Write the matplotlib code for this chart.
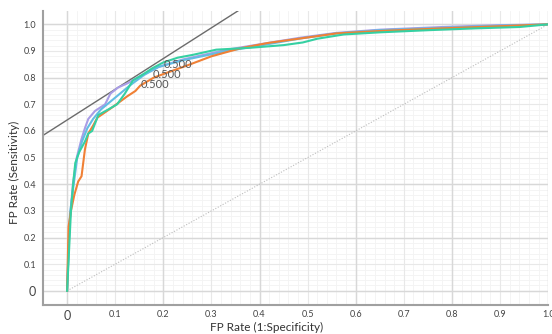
import numpy as np
import matplotlib
matplotlib.use('Agg')
import matplotlib.pyplot as plt

plt.rcParams['font.family'] = ['Lato', 'DejaVu Sans']

# ROC curves (FPR, TPR)
orange_fpr = [0, 0.003, 0.008, 0.015, 0.023, 0.03, 0.037, 0.044, 0.054, 0.063, 0.079, 0.095,
              0.11, 0.125, 0.142, 0.152, 0.18, 0.21, 0.25, 0.30, 0.36, 0.417, 0.485, 0.56,
              0.65, 0.78, 0.9, 1.0]
orange_tpr = [0, 0.24, 0.30, 0.36, 0.41, 0.43, 0.53, 0.59, 0.62, 0.65, 0.67, 0.69,
              0.71, 0.73, 0.75, 0.77, 0.80, 0.82, 0.846, 0.88, 0.91, 0.93, 0.947, 0.966,
              0.975, 0.985, 0.993, 1.0]

teal_fpr = [0, 0.004, 0.008, 0.013, 0.017, 0.025, 0.037, 0.044, 0.052, 0.065, 0.085, 0.104,
            0.12, 0.137, 0.156, 0.177, 0.20, 0.23, 0.26, 0.31, 0.38, 0.45, 0.49, 0.52,
            0.575, 0.65, 0.75, 0.85, 0.94, 1.0]
teal_tpr = [0, 0.15, 0.30, 0.41, 0.48, 0.52, 0.56, 0.59, 0.60, 0.66, 0.68, 0.70,
            0.74, 0.79, 0.81, 0.835, 0.857, 0.875, 0.885, 0.905, 0.912, 0.922, 0.932, 0.946,
            0.962, 0.97, 0.978, 0.985, 0.99, 1.0]

blue_fpr = [0, 0.006, 0.013, 0.021, 0.031, 0.042, 0.054, 0.07, 0.09, 0.11, 0.13, 0.16,
            0.19, 0.24, 0.333, 0.40, 0.485, 0.56, 0.65, 0.78, 0.9, 1.0]
blue_tpr = [0, 0.29, 0.39, 0.50, 0.56, 0.61, 0.645, 0.68, 0.71, 0.74, 0.77, 0.81,
            0.84, 0.865, 0.90, 0.92, 0.947, 0.966, 0.978, 0.987, 0.995, 1.0]

lav_fpr = [0, 0.005, 0.012, 0.02, 0.03, 0.037, 0.044, 0.058, 0.079, 0.09, 0.106, 0.127,
           0.156, 0.19, 0.24, 0.333, 0.40, 0.485, 0.56, 0.65, 0.78, 0.9, 1.0]
lav_tpr = [0, 0.25, 0.40, 0.50, 0.57, 0.61, 0.645, 0.675, 0.70, 0.74, 0.763, 0.78,
           0.81, 0.84, 0.868, 0.905, 0.925, 0.95, 0.968, 0.98, 0.99, 0.997, 1.0]

# threshold labels
thr_x = [0.2, 0.177, 0.152]
thr_y = [0.85, 0.81, 0.775]
thr_text = ['0.500', '0.500', '0.500']

# tangent line (intercept, slope)
tangent = (0.641, 1.153)

ticks = [0, 0.1, 0.2, 0.3, 0.4, 0.5, 0.6, 0.7, 0.8, 0.9, 1.0]
tick_labels = ['0', '0.1', '0.2', '0.3', '0.4', '0.5', '0.6', '0.7', '0.8', '0.9', '1.0']

fig = plt.figure(figsize=(5.52, 3.34), dpi=100)
ax = fig.add_axes([0.078, 0.087, 0.915, 0.880])
ax.set_xlim(-0.05, 1.0)
ax.set_ylim(-0.053, 1.05)

# grids: fine minor, 0.1 medium, 0.2 stronger
for v in np.arange(0, 1.001, 0.02):
    ax.axvline(v, color='#f3f3f3', lw=0.6, zorder=0)
    ax.axhline(v, color='#f3f3f3', lw=0.6, zorder=0)
for v in ticks:
    ax.axvline(v, color='#e8e8e8', lw=0.8, zorder=0)
    ax.axhline(v, color='#e8e8e8', lw=0.8, zorder=0)
for v in [0, 0.2, 0.4, 0.6, 0.8, 1.0]:
    ax.axvline(v, color='#d8d8d8', lw=1.0, zorder=0)
    ax.axhline(v, color='#d8d8d8', lw=1.0, zorder=0)

# chance line
ax.plot([0, 1], [0, 1], color='#bdbdbd', lw=0.8, ls=(0, (1, 1.5)), zorder=1)

# tangent
tx = np.array([-0.05, 0.36])
ax.plot(tx, tangent[0] + tangent[1] * tx, color='#6b6b6b', lw=1.0, zorder=2)

ax.plot(lav_fpr, lav_tpr, color='#a99de6', lw=1.5, zorder=3)
ax.plot(blue_fpr, blue_tpr, color='#62bde3', lw=1.5, zorder=3)
ax.plot(orange_fpr, orange_tpr, color='#f08035', lw=1.5, zorder=3)
ax.plot(teal_fpr, teal_tpr, color='#35d0a2', lw=1.5, zorder=4)

for x, y, s in zip(thr_x, thr_y, thr_text):
    ax.text(x, y, s, fontsize=8, color='#555555', ha='left', va='center', zorder=5)

ax.set_xticks(ticks)
ax.set_xticklabels(tick_labels)
ax.set_yticks(ticks)
ax.set_yticklabels(tick_labels)
ax.tick_params(length=0, labelsize=6.5, labelcolor='#444444')
ax.tick_params(axis='x', pad=4)
ax.tick_params(axis='y', pad=5)
ax.get_xticklabels()[0].set_fontsize(9)
ax.get_yticklabels()[0].set_fontsize(9)

for location in ['top', 'right']:
    ax.spines[location].set_visible(False)
for location in ['left', 'bottom']:
    ax.spines[location].set_color('#a0a0a0')
    ax.spines[location].set_linewidth(1.5)

fig.text(0.482, 0.02, 'FP Rate (1:Specificity)', fontsize=8.5, color='#333333',
         ha='center', va='center')
fig.text(0.027, 0.485, 'FP Rate (Sensitivity)', fontsize=8.5, color='#333333',
         ha='center', va='center', rotation=90)

fig.savefig('out.png', dpi=100)
